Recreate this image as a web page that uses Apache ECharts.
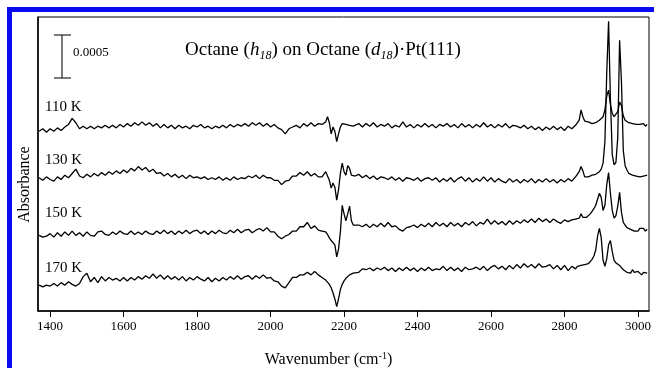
<!DOCTYPE html>
<html>
<head>
<meta charset="utf-8">
<script src="https://cdn.jsdelivr.net/npm/echarts@6/dist/echarts.min.js"></script>
<style>
  html, body { margin: 0; padding: 0; background: #fff; }
  #chart { width: 654px; height: 368px; }
</style>
</head>
<body>
<div id="chart"></div>
<script>
// wavenumber grid (cm-1), finer around the bands
const wavenumbers = [
  1370,1380,1390,1400,1410,1420,1430,1440,1450,1460,
  1470,1480,1490,1500,1510,1520,1530,1540,1550,1560,
  1570,1580,1590,1600,1610,1620,1630,1640,1650,1660,
  1670,1680,1690,1700,1710,1720,1730,1740,1750,1760,
  1770,1780,1790,1800,1810,1820,1830,1840,1850,1860,
  1870,1880,1890,1900,1910,1920,1930,1940,1950,1960,
  1970,1980,1990,2000,2010,2020,2030,2040,2050,2060,
  2070,2080,2090,2100,2110,2120,2130,
  2135,2140,2145,2150,2155,2160,2165,2170,2175,2180,
  2185,2190,2195,2200,2205,2210,2215,2220,2225,2230,
  2240,2250,2260,2270,2280,2290,2300,2310,2320,2330,
  2340,2350,2360,2370,2380,2390,2400,2410,2420,2430,
  2440,2450,2460,2470,2480,2490,2500,2510,2520,2530,
  2540,2550,2560,2570,2580,2590,2600,2610,2620,2630,
  2640,2650,2660,2670,2680,2690,2700,2710,2720,2730,
  2740,2750,2760,2770,2780,2790,2800,2810,2820,2830,
  2835,2840,2845,2850,2855,2860,2865,2870,2875,2880,
  2885,2890,2895,2900,2905,2910,2915,2920,2925,2930,
  2935,2940,2945,2950,2955,2960,2965,2970,2975,2980,
  2985,2990,2995,3000,3005,3010,3015,3020,3025
];

// absorbance (x 1e-4) relative to each trace's baseline
const trace110 = [
  -0.5,-0.2,-0.6,-0.2,-0.5,-0.1,-0.4,0.0,0.3,1.0,
  0.5,-0.2,0.1,-0.2,0.1,-0.2,0.1,-0.1,0.2,-0.1,
  0.2,-0.1,0.3,0.0,0.4,0.1,0.5,0.2,0.6,0.2,
  0.5,0.1,0.4,-0.1,0.3,-0.1,0.2,-0.2,0.2,-0.1,
  0.1,-0.2,0.2,0.0,0.3,-0.1,0.1,-0.2,0.1,-0.1,
  0.2,-0.1,0.3,0.0,0.3,0.1,0.4,0.1,0.5,0.2,
  0.5,0.1,0.4,0.0,0.3,-0.1,-0.3,-0.8,-0.2,0.0,
  0.2,-0.1,0.4,0.1,0.5,0.1,0.4,
  0.2,0.3,0.4,0.6,1.2,0.5,-0.8,0.0,-0.5,-1.7,
  -0.8,0.0,0.4,0.6,0.3,0.5,0.2,0.4,0.1,0.2,
  0.4,0.0,0.4,0.1,0.5,0.0,0.3,0.1,0.4,-0.1,
  0.2,0.0,0.6,0.0,0.3,-0.1,0.3,0.0,0.4,0.0,
  0.3,-0.1,0.3,0.1,0.4,0.0,0.3,-0.1,0.4,0.0,
  0.3,-0.1,0.3,0.0,0.5,0.0,0.3,-0.1,0.3,0.0,
  0.4,-0.1,0.2,0.1,-0.1,0.2,-0.2,0.1,-0.3,0.0,
  -0.4,0.0,-0.3,0.1,-0.3,0.0,-0.4,0.1,-0.2,0.2,
  0.2,0.8,2.0,1.2,0.7,0.5,0.6,0.5,0.4,0.6,
  0.5,0.7,0.8,1.0,1.2,2.0,3.6,4.3,2.6,1.6,
  1.2,1.3,1.8,2.9,2.5,1.3,0.8,0.6,0.5,0.6,
  0.4,0.5,0.3,0.5,0.3,0.2,0.4,0.1,0.3
];

const trace130 = [
  -0.2,-0.5,-0.1,-0.4,-0.6,-0.1,-0.4,0.1,-0.2,0.3,
  0.8,0.0,-0.2,0.2,-0.1,0.3,0.0,0.4,0.1,0.5,
  0.2,0.6,0.3,0.7,0.4,0.9,0.6,1.1,0.7,1.0,
  0.5,0.8,0.3,0.4,0.0,0.3,-0.1,0.2,-0.2,0.1,
  -0.3,0.1,-0.2,-0.1,-0.3,-0.1,-0.4,-0.2,-0.4,-0.1,
  -0.5,-0.2,-0.5,-0.1,-0.4,-0.2,-0.3,0.0,-0.2,0.1,
  -0.3,0.1,-0.2,-0.2,-0.5,-0.5,-1.0,-0.6,-0.5,0.0,
  0.0,0.4,0.1,0.5,0.0,0.3,-0.1,
  -0.3,-0.1,0.0,0.5,0.3,-0.5,-1.4,-0.8,-1.3,-2.8,
  -1.6,0.3,1.5,0.5,0.1,1.2,0.9,0.1,0.2,0.0,
  0.2,-0.2,0.1,-0.3,0.0,-0.4,-0.1,-0.2,-0.4,-0.1,
  -0.5,-0.2,-0.6,-0.2,-0.3,-0.5,-0.2,-0.6,-0.3,-0.2,
  -0.5,-0.2,-0.7,-0.3,-0.6,-0.2,-0.7,-0.3,-0.1,-0.6,
  -0.2,-0.7,-0.3,-0.6,-0.1,-0.6,-0.2,-0.7,-0.3,-0.6,
  -0.8,-0.3,-0.7,-0.4,-0.8,-0.4,-0.7,-0.3,-0.8,-0.4,
  -0.7,-0.3,-0.7,-0.4,-0.8,-0.4,-0.7,-0.3,-0.6,-0.1,
  0.0,0.5,1.1,0.6,-0.1,-0.2,-0.1,0.0,0.1,0.3,
  0.2,0.4,0.5,0.8,1.5,4.0,12.0,18.0,9.0,2.5,
  1.3,1.6,4.5,15.8,11.0,3.0,1.2,0.7,0.3,0.5,
  0.1,0.2,0.0,0.2,-0.1,0.1,0.0,-0.1,0.1
];

const trace150 = [
  0.1,-0.1,0.0,0.3,-0.1,0.4,0.0,0.5,0.1,0.6,
  0.1,0.4,0.0,0.5,0.1,0.0,0.5,0.6,0.2,0.1,
  0.5,0.2,0.6,0.3,0.2,0.6,0.2,0.5,0.2,0.6,
  0.3,0.2,0.6,0.3,0.7,0.3,0.6,0.2,0.6,0.3,
  0.7,0.3,0.6,0.7,0.3,0.6,0.2,0.6,0.3,0.7,
  0.4,0.3,0.7,0.4,0.8,0.4,0.7,0.8,0.4,0.7,
  0.9,0.6,1.0,0.5,0.5,0.0,-0.3,0.0,0.2,0.6,
  0.6,1.1,1.1,1.6,0.9,1.2,0.7,
  0.7,0.6,0.4,0.5,0.2,-0.2,-0.5,-0.3,-1.0,-2.4,
  -1.5,0.5,3.6,2.6,1.8,2.6,3.5,1.8,1.3,1.2,
  1.3,1.1,1.4,1.0,1.4,1.1,1.5,1.1,1.6,1.1,
  1.2,0.8,0.6,1.0,1.1,1.3,1.0,1.4,1.1,1.5,
  1.1,1.6,1.2,1.5,1.1,1.6,1.2,1.5,1.1,1.6,
  1.3,1.7,1.2,1.6,1.4,2.0,1.4,1.8,1.4,1.7,
  1.3,1.8,1.4,1.8,1.5,1.9,1.6,2.0,1.6,2.1,
  1.7,2.0,1.6,2.0,1.7,1.5,1.9,1.7,1.9,2.0,
  1.8,2.1,2.6,2.2,2.0,2.2,2.4,2.6,2.9,3.2,
  3.6,4.3,5.0,4.5,3.0,3.6,6.0,7.4,5.0,3.0,
  2.1,2.4,3.5,5.1,2.8,1.6,1.3,1.0,1.2,0.8,
  0.9,0.6,0.8,0.6,0.9,0.7,0.9,0.6,0.8
];

const trace170 = [
  0.1,-0.1,0.1,0.0,0.3,0.0,0.4,0.1,0.5,0.2,
  0.0,0.3,1.1,1.5,0.5,1.0,0.4,1.1,0.6,1.0,
  0.7,0.9,0.6,1.0,0.6,1.0,0.7,1.1,0.8,1.2,
  0.9,1.4,0.9,1.3,0.8,1.2,0.8,1.1,0.7,1.1,
  0.6,1.0,0.7,1.1,0.8,0.6,1.0,0.5,0.9,0.6,
  1.0,0.7,1.1,0.8,1.2,0.8,1.1,1.2,0.8,1.2,
  0.9,1.3,0.9,1.0,0.6,0.5,0.0,-0.2,0.4,1.0,
  1.0,1.3,1.3,1.6,1.3,1.7,1.3,
  1.2,1.0,0.8,0.7,0.5,0.2,-0.2,-0.8,-1.5,-2.4,
  -1.5,-0.4,0.2,0.6,0.9,1.1,1.3,1.4,1.5,1.6,
  1.6,2.0,1.9,2.1,1.8,2.1,1.9,2.2,1.8,2.1,
  1.7,2.1,1.8,2.2,1.8,2.1,1.7,2.1,1.8,2.2,
  1.8,2.0,1.9,2.3,1.8,2.2,1.8,2.1,1.7,2.2,
  1.9,2.0,2.2,1.9,2.3,1.8,2.2,2.4,2.0,2.3,
  1.9,2.4,2.0,2.5,2.1,2.6,2.2,2.5,2.1,2.6,
  2.2,2.3,2.5,2.0,2.4,1.9,2.4,1.8,2.3,2.0,
  2.3,2.1,2.4,2.2,2.5,2.3,2.6,2.8,3.1,3.5,
  4.2,5.8,6.7,5.6,3.0,2.3,3.2,4.8,5.3,4.0,
  3.0,2.7,2.8,2.4,2.2,1.9,2.1,1.6,1.8,1.5,
  1.9,1.6,1.4,1.7,1.5,1.3,1.6,1.4,1.5
];

const temps = ['110 K', '130 K', '150 K', '170 K'];
const offsets = [21.4, 15.7, 8.7, 2.9];   // vertical stacking of the spectra
const tickValues = [1400, 1600, 1800, 2000, 2200, 2400, 2600, 2800, 3000];

const traces = [trace110, trace130, trace150, trace170];
traces.forEach((t, i) => {
  if (t.length !== wavenumbers.length) {
    throw new Error(temps[i] + ': ' + t.length + ' values, expected ' + wavenumbers.length);
  }
});

const serif = 'Liberation Serif';
const chartDom = document.getElementById('chart');
const myChart = echarts.init(chartDom);

// temperature labels sit just above each trace
const labelY = [107, 160, 213, 268];

const option = {
  animation: false,
  backgroundColor: '#fff',
  grid: {
    left: 38, right: 5, top: 17, bottom: 57,
    outerBoundsMode: 'none',
    show: true, borderColor: '#000', borderWidth: 1,
  },
  xAxis: {
    type: 'value',
    min: 1367,
    max: 3030,
    name: 'Wavenumber (cm{sup|-1})',
    nameLocation: 'middle',
    nameGap: 40,
    nameTextStyle: {
      fontFamily: serif, fontSize: 16, color: '#000', lineHeight: 18,
      padding: [0, 30, 0, 0],
      rich: { sup: { fontFamily: serif, fontSize: 10, color: '#000', verticalAlign: 'top', lineHeight: 10 } },
    },
    axisLine: { show: true, lineStyle: { color: '#000', width: 1.5 } },
    axisTick: { show: true, length: 6, customValues: tickValues, lineStyle: { color: '#000', width: 1 } },
    axisLabel: {
      customValues: tickValues, margin: 9,
      fontFamily: serif, fontSize: 13, color: '#000',
      formatter: (v) => String(v),
    },
    splitLine: { show: false },
  },
  yAxis: {
    type: 'value',
    min: 0,
    max: 34.2,
    name: 'Absorbance',
    nameLocation: 'middle',
    nameGap: 5,
    nameTextStyle: { fontFamily: serif, fontSize: 16, color: '#000', padding: [0, 41, 0, 0] },
    axisLine: { show: true, lineStyle: { color: '#000', width: 1.5 } },
    axisTick: { show: false },
    axisLabel: { show: false },
    splitLine: { show: false },
  },
  graphic: [
    // blue frame around the figure
    { type: 'rect', shape: { x: 7, y: 7, width: 647, height: 5 }, style: { fill: '#0b0bf2' } },
    { type: 'rect', shape: { x: 7, y: 7, width: 5, height: 361 }, style: { fill: '#0b0bf2' } },
    {
      type: 'text', x: 185, y: 50,
      style: {
        text: 'Octane ({i|h}{isub|18}) on Octane ({i|d}{isub|18})·Pt(111)',
        fontFamily: serif, fontSize: 19, fill: '#000', verticalAlign: 'middle', lineHeight: 24,
        rich: {
          i: { fontFamily: serif, fontSize: 19, fontStyle: 'italic', fill: '#000' },
          isub: { fontFamily: serif, fontSize: 12, fontStyle: 'italic', fill: '#000', verticalAlign: 'bottom', lineHeight: 12 },
        },
      },
    },
    // 0.0005 scale bar
    { type: 'line', shape: { x1: 62, y1: 35, x2: 62, y2: 78 }, style: { stroke: '#222', lineWidth: 1.2 } },
    { type: 'line', shape: { x1: 54, y1: 35, x2: 71, y2: 35 }, style: { stroke: '#222', lineWidth: 1.2 } },
    { type: 'line', shape: { x1: 54, y1: 78, x2: 71, y2: 78 }, style: { stroke: '#222', lineWidth: 1.2 } },
    { type: 'text', x: 73, y: 53, style: { text: '0.0005', fontFamily: serif, fontSize: 13, fill: '#000', verticalAlign: 'middle' } },
  ].concat(temps.map((t, i) => ({
    type: 'text', x: 45, y: labelY[i],
    style: { text: t, fontFamily: serif, fontSize: 15, fill: '#000', verticalAlign: 'middle' },
  }))),
  series: traces.map((t, i) => ({
    name: temps[i],
    type: 'line',
    showSymbol: false,
    silent: true,
    lineStyle: { color: '#000', width: 1.3 },
    data: t.map((v, j) => [wavenumbers[j], +(v + offsets[i]).toFixed(2)]),
  })),
};

myChart.setOption(option);
</script>
</body>
</html>
